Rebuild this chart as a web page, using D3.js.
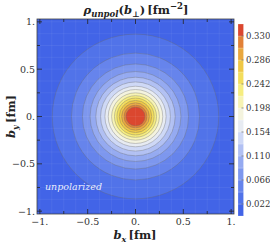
<!DOCTYPE html>
<html>
<head>
<meta charset="utf-8">
<script src="https://cdn.jsdelivr.net/npm/d3@7"></script>
<style>
  body { margin: 0; background: #fff; }
  svg text { font-family: "DejaVu Serif", "Liberation Serif", serif; }
</style>
</head>
<body>
<div id="chart"></div>
<script>
// contour levels and the radius (fm) where each level sits
var levels = [0.022, 0.044, 0.066, 0.088, 0.110, 0.132, 0.154, 0.176, 0.198, 0.220, 0.242, 0.264, 0.286, 0.308, 0.330];
var radii  = [0.87, 0.67, 0.555, 0.475, 0.415, 0.365, 0.32, 0.285, 0.25, 0.22, 0.195, 0.17, 0.145, 0.12, 0.10];
var axisTicks = [-1, -0.5, 0, 0.5, 1];
var axisTickLabels = ["\u22121.", "\u22120.5", "0.", "0.5", "1."];
var minorTicks = [-0.75, -0.25, 0.25, 0.75];
var barTicks = [0.022, 0.066, 0.110, 0.154, 0.198, 0.242, 0.286, 0.330];
var barTickLabels = ["0.022", "0.066", "0.110", "0.154", "0.198", "0.242", "0.286", "0.330"];
var barMax = 0.352;

var W = 270, H = 245;
var svg = d3.select("#chart").append("svg").attr("width", W).attr("height", H);

var x = d3.scaleLinear().domain([-1.03, 1.03]).range([37, 234]);
var y = d3.scaleLinear().domain([-1.03, 1.03]).range([214, 19]);

// TemperatureMap-like colours
var colorT = d3.scaleLinear()
    .domain([0, 0.12, 0.3, 0.45, 0.52, 0.6, 0.68, 0.78, 0.87, 0.94, 1])
    .range(["#3a5de6", "#5879ea", "#9cb0f2", "#e3e8f7", "#f3f3e6", "#f7f3b0", "#f6eb6a", "#efc845", "#e6993b", "#df6a33", "#d7222a"])
    .interpolate(d3.interpolateRgb);
function bandColor(k) { return colorT((k + 0.5) / 16); }

svg.append("clipPath").attr("id", "clip")
  .append("rect").attr("x", x(-1.03)).attr("y", y(1.03))
  .attr("width", x(1.03) - x(-1.03)).attr("height", y(-1.03) - y(1.03));

var plot = svg.append("g").attr("clip-path", "url(#clip)");

plot.append("rect")
    .attr("x", x(-1.03)).attr("y", y(1.03))
    .attr("width", x(1.03) - x(-1.03)).attr("height", y(-1.03) - y(1.03))
    .attr("fill", bandColor(0));

// filled contour bands, outermost first
levels.forEach(function(lv, i) {
    plot.append("ellipse")
        .attr("cx", x(0)).attr("cy", y(0))
        .attr("rx", x(radii[i]) - x(0))
        .attr("ry", y(0) - y(radii[i]))
        .attr("fill", bandColor(i + 1))
        .attr("stroke", "#6a6a6a")
        .attr("stroke-opacity", 0.6)
        .attr("stroke-width", 0.6);
});

// faint mesh lines like the original rendering
var mesh = d3.range(-1, 1.01, 0.125);
plot.selectAll(".mv").data(mesh).enter().append("line")
    .attr("x1", function(d) { return x(d); }).attr("x2", function(d) { return x(d); })
    .attr("y1", y(1.03)).attr("y2", y(-1.03))
    .attr("stroke", "#fff").attr("stroke-opacity", 0.08).attr("stroke-width", 0.8);
plot.selectAll(".mh").data(mesh).enter().append("line")
    .attr("y1", function(d) { return y(d); }).attr("y2", function(d) { return y(d); })
    .attr("x1", x(-1.03)).attr("x2", x(1.03))
    .attr("stroke", "#fff").attr("stroke-opacity", 0.08).attr("stroke-width", 0.8);

// frame
svg.append("rect")
    .attr("x", x(-1.03)).attr("y", y(1.03))
    .attr("width", x(1.03) - x(-1.03)).attr("height", y(-1.03) - y(1.03))
    .attr("fill", "none").attr("stroke", "#444").attr("stroke-width", 0.8);

var ticks = svg.append("g").attr("stroke", "#222").attr("stroke-width", 0.8);
function addTicks(vals, len) {
    vals.forEach(function(v) {
        ticks.append("line").attr("x1", x(v)).attr("x2", x(v)).attr("y1", y(-1.03)).attr("y2", y(-1.03) - len);
        ticks.append("line").attr("x1", x(v)).attr("x2", x(v)).attr("y1", y(1.03)).attr("y2", y(1.03) + len);
        ticks.append("line").attr("y1", y(v)).attr("y2", y(v)).attr("x1", x(-1.03)).attr("x2", x(-1.03) + len);
        ticks.append("line").attr("y1", y(v)).attr("y2", y(v)).attr("x1", x(1.03)).attr("x2", x(1.03) - len);
    });
}
addTicks(axisTicks, 5);
addTicks(minorTicks, 3);

axisTicks.forEach(function(v, i) {
    svg.append("text").attr("x", x(v)).attr("y", 225)
        .attr("text-anchor", "middle").attr("font-size", 9.5).attr("fill", "#333")
        .text(axisTickLabels[i]);
    svg.append("text").attr("x", 35).attr("y", y(v) + 3.5)
        .attr("text-anchor", "end").attr("font-size", 9.5).attr("fill", "#333")
        .text(axisTickLabels[i]);
});

// title
var title = svg.append("text").attr("x", 136).attr("y", 14)
    .attr("text-anchor", "middle").attr("font-size", 11.5).attr("font-weight", "bold").attr("fill", "#222");
title.append("tspan").attr("font-style", "italic").text("\u03c1");
title.append("tspan").attr("font-style", "italic").attr("font-size", 8.5).attr("dy", 3).text("unpol");
title.append("tspan").attr("dy", -3).text("(");
title.append("tspan").attr("font-style", "italic").text("b");
title.append("tspan").attr("font-size", 8).attr("dy", 3).text("\u22a5");
title.append("tspan").attr("dy", -3).text(")\u2009[fm");
title.append("tspan").attr("font-size", 8.5).attr("dy", -5).text("\u22122");
title.append("tspan").attr("dy", 5).text("]");

// axis labels
var xl = svg.append("text").attr("x", 135).attr("y", 239)
    .attr("text-anchor", "middle").attr("font-size", 11.5).attr("font-weight", "bold").attr("fill", "#222");
xl.append("tspan").attr("font-style", "italic").text("b");
xl.append("tspan").attr("font-style", "italic").attr("font-size", 8).attr("dy", 3).text("x");
xl.append("tspan").attr("dy", -3).text("\u2009[fm]");

var yl = svg.append("text").attr("transform", "translate(15," + y(0) + ") rotate(-90)")
    .attr("text-anchor", "middle").attr("font-size", 11.5).attr("font-weight", "bold").attr("fill", "#222");
yl.append("tspan").attr("font-style", "italic").text("b");
yl.append("tspan").attr("font-style", "italic").attr("font-size", 8).attr("dy", 3).text("y");
yl.append("tspan").attr("dy", -3).text("\u2009[fm]");

svg.append("text").attr("x", 45).attr("y", 190)
    .attr("font-size", 9.5).attr("font-style", "italic").attr("fill", "#fff").attr("fill-opacity", 0.9)
    .text("unpolarized");

// colour bar
var cb = d3.scaleLinear().domain([0, barMax]).range([216, 24]);
var bands = d3.range(16);
svg.selectAll(".cbb").data(bands).enter().append("rect")
    .attr("x", 238).attr("width", 5.5)
    .attr("y", function(k) { return cb((k + 1) * 0.022); })
    .attr("height", function(k) { return cb(k * 0.022) - cb((k + 1) * 0.022); })
    .attr("fill", function(k) { return bandColor(k); })
    .attr("stroke", "#fff").attr("stroke-opacity", 0.4).attr("stroke-width", 0.5);

barTicks.forEach(function(v, i) {
    svg.append("line").attr("x1", 241.5).attr("x2", 243.5).attr("y1", cb(v)).attr("y2", cb(v))
        .attr("stroke", "#555").attr("stroke-width", 0.6);
    svg.append("text").attr("x", 246).attr("y", cb(v) + 3)
        .attr("font-size", 8.5).attr("fill", "#333").text(barTickLabels[i]);
});
</script>
</body>
</html>
